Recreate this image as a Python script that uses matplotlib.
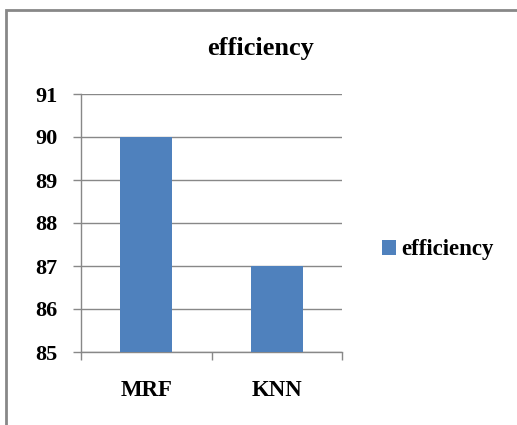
import matplotlib.pyplot as plt
from matplotlib.patches import Rectangle

categories = ['MRF', 'KNN']
efficiency = [90, 87]
yticks = [85, 86, 87, 88, 89, 90, 91]

plt.rcParams['font.family'] = 'Liberation Serif'
plt.rcParams['font.weight'] = 'bold'

fig = plt.figure(figsize=(5.17, 4.25), dpi=100)
# outer chart border (cut off at right and bottom like the reference)
fig.patches.append(Rectangle((6 / 517, -0.1), 1.2, 1 - 10 / 425 + 0.1, transform=fig.transFigure,
                             fill=False, edgecolor='#888888', linewidth=2))

ax = fig.add_axes([81 / 517, 1 - 352 / 425, (342 - 81) / 517, (352 - 94) / 425])
x = list(range(len(categories)))
ax.bar(x, efficiency, width=0.4, color='#4F81BD', label='efficiency', zorder=3)

ax.set_ylim(85, 91)
ax.set_xlim(-0.5, 1.5)
ax.set_yticks(yticks)
ax.set_xticks([-0.5, 0.5, 1.5])
ax.set_xticklabels([])
ax.set_xticks(x, minor=True)
ax.set_xticklabels(categories, minor=True)
ax.tick_params(axis='x', which='major', length=6, width=1, color='#888888', direction='out')
ax.tick_params(axis='x', which='minor', length=0, pad=20, labelsize=16.5)
ax.tick_params(axis='y', length=6, width=1, color='#888888', direction='out', pad=11, labelsize=16)
ax.yaxis.grid(True, color='#888888', linewidth=1, zorder=0)
for s in ['top', 'right']:
    ax.spines[s].set_visible(False)
for s in ['left', 'bottom']:
    ax.spines[s].set_color('#888888')
    ax.spines[s].set_linewidth(1)
ax.set_axisbelow(True)

fig.text(261 / 517, 1 - 48 / 425, 'efficiency', ha='center', va='center', fontsize=19, fontweight='bold')

fig.legend(loc='center left', bbox_to_anchor=(382 / 517, 1 - 250 / 425), frameon=False,
           handlelength=0.6, handleheight=0.6, handletextpad=0.25, fontsize=16.5, borderaxespad=0,
           borderpad=0)

fig.savefig('out.png', dpi=100)
